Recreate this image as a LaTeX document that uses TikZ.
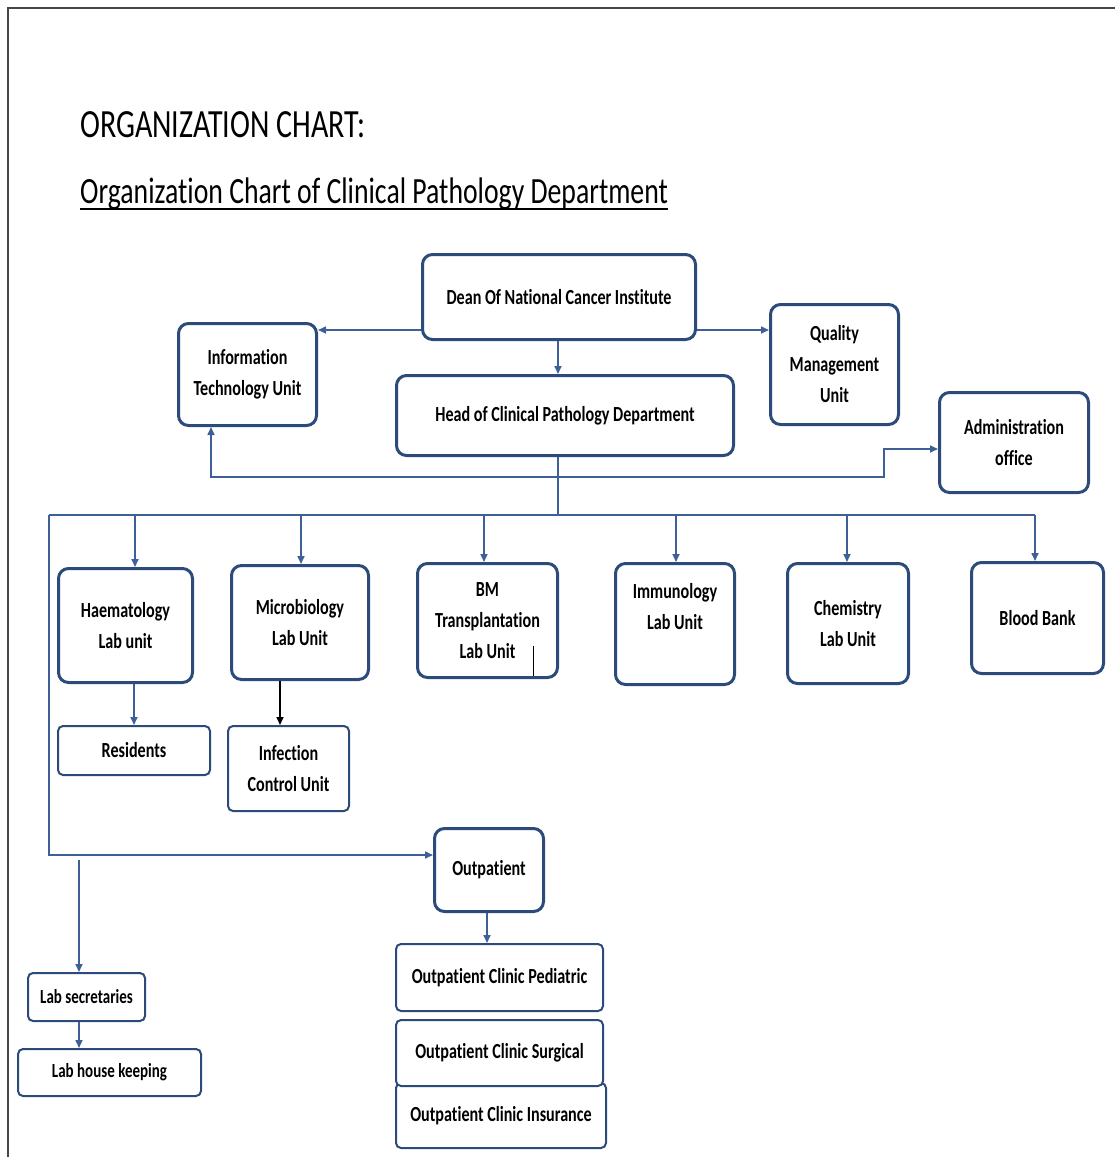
\documentclass[tikz,border=0pt]{standalone}
\usepackage{fontspec}
\setmainfont{Carlito}[FakeStretch=0.75, Ligatures={NoCommon}]
\usetikzlibrary{arrows.meta}
\definecolor{boxc}{RGB}{44,74,122}
\definecolor{linec}{RGB}{62,96,150}
\definecolor{framec}{RGB}{70,70,70}
\newcommand\boxfont{\fontsize{21.5}{31}\selectfont\bfseries}
\tikzset{
  box/.style={draw=boxc, fill=white, line width=3pt, rounded corners=10pt, align=center, inner sep=0pt, font=\boxfont},
  tbox/.style={draw=boxc, fill=white, line width=2pt, rounded corners=5pt, align=center, inner sep=0pt, font=\boxfont},
  conn/.style={draw=linec, line width=1.6pt, -{Triangle[length=8pt,width=7pt]}},
  plain/.style={draw=linec, line width=1.6pt},
}
\begin{document}
\begin{tikzpicture}[x=1pt,y=-1pt]
\useasboundingbox (0,0) rectangle (1115,1157);
\draw[framec, line width=1.5pt] (8,1157) -- (8,8) -- (1115,8);

\node[anchor=base west, inner sep=0pt, font=\fontsize{40}{42}\selectfont] (t1) at (80,137) {ORGANIZATION CHART:};
\node[anchor=base west, inner sep=0pt, font=\fontsize{37}{39}\selectfont] (t2) at (80,203) {Organization Chart of Clinical Pathology Department};
\draw[black, line width=2pt] ([yshift=-6pt]t2.base west) -- ([yshift=-6pt]t2.base east);

% boxes
\node[box, minimum width=273, minimum height=85] (dean) at (559,297) {Dean Of National Cancer Institute};
\node[box, minimum width=138, minimum height=102] (it) at (247.5,374.5) {Information\\Technology Unit};
\node[box, minimum width=128, minimum height=120] (quality) at (834.5,364.5) {Quality\\Management\\Unit};
\node[box, minimum width=337, minimum height=80] (head) at (565,415.5) {Head of Clinical Pathology Department};
\node[box, minimum width=149, minimum height=100] (admin) at (1014,442.5) {Administration\\office};

\node[box, minimum width=134, minimum height=114] (haem) at (125.5,625.5) {Haematology\\Lab unit};
\node[box, minimum width=137, minimum height=114] (micro) at (300,622.5) {Microbiology\\Lab Unit};
\node[box, minimum width=140, minimum height=114] (bm) at (487.5,620.5) {BM\\Transplantation\\Lab Unit};
\node[box, minimum width=119, minimum height=121, text depth=36pt] (immuno) at (675,624) {Immunology\\Lab Unit};
\node[box, minimum width=121, minimum height=120] (chem) at (848,623.5) {Chemistry\\Lab Unit};
\node[box, minimum width=132, minimum height=111] (blood) at (1037.5,618) {Blood Bank};

\node[tbox, minimum width=152, minimum height=49] (residents) at (134,750.5) {Residents};
\node[tbox, minimum width=121, minimum height=85] (infect) at (288.5,768.5) {Infection\\Control Unit};

\node[box, minimum width=109, minimum height=83] (outp) at (489,870) {Outpatient};
\node[tbox, minimum width=210, minimum height=65] (oci) at (501,1115.5) {Outpatient Clinic Insurance};
\node[tbox, minimum width=207, minimum height=66] (ocs) at (499.5,1053) {Outpatient Clinic Surgical};
\node[tbox, minimum width=207, minimum height=67] (ocp) at (499.5,977.5) {Outpatient Clinic Pediatric};

\node[tbox, minimum width=117, minimum height=48, font=\fontsize{20}{24}\selectfont\bfseries] (labsec) at (86.5,997) {Lab secretaries};
\node[tbox, minimum width=183, minimum height=47, font=\fontsize{20}{24}\selectfont\bfseries] (labhk) at (109.5,1072.5) {Lab house keeping};

% small mark inside BM box
\draw[black, line width=1pt] ([xshift=45.5pt,yshift=-25pt]bm.center) -- ([xshift=45.5pt,yshift=-55pt]bm.center);

% connectors from Dean
\draw[conn] ([yshift=-33pt]dean.west) -- ([yshift=-33pt]dean.west -| it.east);
\draw[conn] ([yshift=-33pt]dean.east) -- ([yshift=-33pt]dean.east -| quality.west);
\draw[conn] ([xshift=-1pt]dean.south) -- ([xshift=-1pt]dean.south |- head.north);

% from Head
\coordinate (hj) at (558,477);
\coordinate (bus) at (558,515);
\coordinate (busL) at (49,515);
\coordinate (busR) at (1035,515);
\coordinate (adm1) at (884,477);
\coordinate (adm2) at (884,449);
\draw[plain] (hj |- head.south) -- (bus);
\draw[conn] (hj) -| ([xshift=-36.5pt]it.south);
\draw[conn] (hj) -- (adm1) -- (adm2) -- (adm2 -| admin.west);
\draw[plain] (busL) -- (busR);

% drops
\draw[conn] ([xshift=9.5pt]haem.north |- busL) -- ([xshift=9.5pt]haem.north);
\draw[conn] ([xshift=1pt]micro.north |- busL) -- ([xshift=1pt]micro.north);
\draw[conn] ([xshift=-3.5pt]bm.north |- busL) -- ([xshift=-3.5pt]bm.north);
\draw[conn] ([xshift=1pt]immuno.north |- busL) -- ([xshift=1pt]immuno.north);
\draw[conn] ([xshift=-1pt]chem.north |- busL) -- ([xshift=-1pt]chem.north);
\draw[conn] (busR) -- (busR |- blood.north);

% left branch
\coordinate (lc) at (49,855);
\draw[conn] (busL) -- (lc) -- (lc -| outp.west);
\coordinate (ls) at (79,860);
\draw[conn] (ls) -- (ls |- labsec.north);
\draw[conn] (ls |- labsec.south) -- (ls |- labhk.north);

% children
\draw[conn] (residents.north |- haem.south) -- (residents.north);
\draw[draw=black, line width=1.6pt, -{Triangle[length=8pt,width=7pt]}] ([xshift=-8.5pt]infect.north |- micro.south) -- ([xshift=-8.5pt]infect.north);
\draw[conn] ([xshift=-2pt]outp.south) -- ([xshift=-2pt]outp.south |- ocp.north);
\end{tikzpicture}
\end{document}
